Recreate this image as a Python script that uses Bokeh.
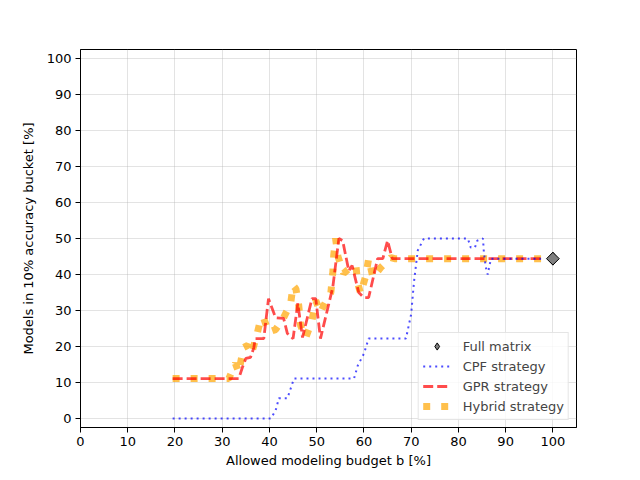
import numpy as np
from bokeh.plotting import figure
from bokeh.models import Range1d, FixedTicker, Legend, LegendItem
from bokeh.embed import file_html
from bokeh.resources import INLINE

# budget (x) and model counts (y)
cpf_x = [19.5, 40.3, 41.3, 42.0, 43.8, 45.2, 57.9, 58.7, 60.0, 61.0, 68.9, 70.0,
         70.6, 71.4, 72.7, 82.0, 82.6, 83.5, 84.0, 85.2, 85.4, 85.8, 86.2, 86.5,
         86.9, 97.5]
cpf_y = [0.0, 0.0, 2.2, 5.6, 5.6, 11.1, 11.1, 14.7, 18.0, 22.2, 22.2, 29.0,
         38.0, 46.7, 50.0, 50.0, 47.5, 47.5, 49.4, 50.0, 46.0, 42.0, 40.0, 42.0,
         44.4, 44.4]

gpr_x = [19.5, 33.5, 34.3, 35.0, 36.0, 36.7, 37.0, 38.8, 39.8, 41.3, 43.0, 43.8,
         45.0, 46.0, 47.0, 49.0, 49.8, 50.8, 53.4, 54.7, 55.5, 56.8, 57.5, 58.9,
         60.0, 61.0, 62.9, 64.0, 65.0, 66.0, 97.5]
gpr_y = [11.1, 11.1, 14.3, 16.7, 17.0, 19.7, 22.2, 22.2, 33.3, 28.0, 27.8, 23.6,
         22.2, 32.0, 22.5, 33.3, 33.3, 22.2, 36.4, 50.0, 49.4, 41.0, 42.5, 35.0,
         33.6, 33.6, 44.4, 44.4, 49.4, 44.4, 44.4]

hyb_x = [19.5, 31.4, 32.8, 33.5, 34.5, 35.4, 36.2, 37.3, 38.2, 38.8, 39.8, 41.3,
         43.0, 44.5, 45.0, 45.6, 46.2, 46.6, 47.7, 49.0, 49.8, 50.8, 51.5, 53.0,
         53.4, 53.6, 54.0, 54.5, 55.7, 57.2, 58.3, 58.7, 59.3, 60.4, 61.0, 61.9,
         63.6, 65.7, 66.5, 97.5]
hyb_y = [11.1, 11.1, 15.3, 12.8, 19.7, 20.3, 18.0, 23.0, 28.0, 27.8, 24.0, 24.7,
         28.0, 32.0, 37.0, 36.0, 31.4, 25.8, 22.5, 27.2, 32.8, 29.4, 31.4, 35.0,
         40.3, 45.3, 50.0, 45.0, 40.3, 42.0, 42.5, 37.5, 34.7, 39.7, 44.4, 39.2,
         42.0, 44.7, 44.4, 44.4]

full_x = [100]
full_y = [44.4]

ticks = list(range(0, 101, 10))

p = figure(width=640, height=480, output_backend="svg", toolbar_location=None,
           x_range=Range1d(0, 105), y_range=Range1d(-2.5, 102.5),
           min_border_left=80, min_border_right=64, min_border_top=49,
           min_border_bottom=53, background_fill_color="white",
           border_fill_color="white")

p.outline_line_color = "black"
p.outline_line_width = 1

for ax in (p.xaxis, p.yaxis):
    ax.ticker = FixedTicker(ticks=ticks)
    ax.major_tick_out = 5
    ax.major_tick_in = 0
    ax.minor_tick_line_color = None
    ax.major_label_text_font = "DejaVu Sans"
    ax.major_label_text_font_size = "13px"
    ax.major_label_text_color = "black"
    ax.axis_label_text_font = "DejaVu Sans"
    ax.axis_label_text_font_size = "13px"
    ax.axis_label_text_font_style = "normal"
    ax.axis_label_text_color = "black"
    ax.axis_line_color = "black"
    ax.major_label_standoff = 4

p.xaxis.axis_label = "Allowed modeling budget b [%]"
p.yaxis.axis_label = "Models in 10% accuracy bucket [%]"
p.xaxis.axis_label_standoff = 4
p.yaxis.axis_label_standoff = 8

p.grid.grid_line_color = "#b0b0b0"
p.grid.grid_line_alpha = 0.35
p.xgrid.ticker = FixedTicker(ticks=ticks)
p.ygrid.ticker = FixedTicker(ticks=ticks)

r_hyb = p.line(hyb_x, hyb_y, line_color="orange", line_alpha=0.7, line_width=7,
               line_dash="7 11")
r_gpr = p.line(gpr_x, gpr_y, line_color="red", line_alpha=0.7, line_width=2.8,
               line_dash="10 4")
r_cpf = p.line(cpf_x, cpf_y, line_color="blue", line_alpha=0.7, line_width=2,
               line_dash="2 4")
# diamond used for the legend entry, hidden under the rotated square below
r_full = p.scatter(full_x, full_y, marker="diamond", size=13,
                   fill_color="gray", line_color="black", line_width=1)
p.scatter(full_x, full_y, marker="square", size=9, angle=np.pi / 4,
          fill_color="gray", line_color="black", line_width=1)

legend = Legend(items=[
    LegendItem(label="Full matrix", renderers=[r_full]),
    LegendItem(label="CPF strategy", renderers=[r_cpf]),
    LegendItem(label="GPR strategy", renderers=[r_gpr]),
    LegendItem(label="Hybrid strategy", renderers=[r_hyb]),
], location="bottom_right")
legend.margin = 7
legend.padding = 4
legend.spacing = 2
legend.glyph_width = 28
legend.glyph_height = 18
legend.label_height = 18
legend.label_standoff = 12
legend.label_text_font = "DejaVu Sans"
legend.label_text_font_size = "13px"
legend.border_line_color = "#cccccc"
legend.background_fill_alpha = 0.8
p.add_layout(legend)

open("out.html", "w").write(file_html(p, INLINE))
